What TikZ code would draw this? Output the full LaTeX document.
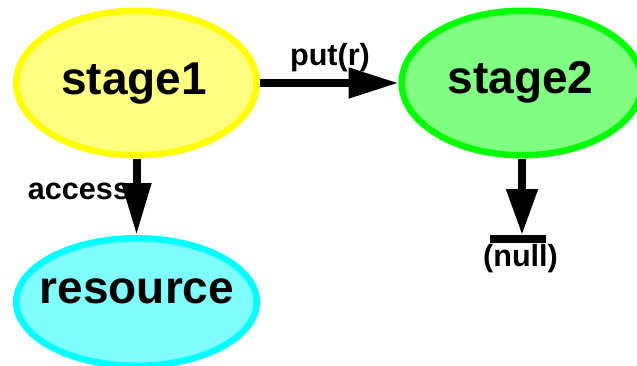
\documentclass[tikz,border=0pt]{standalone}
\usepackage{fontspec}
\setmainfont{Liberation Sans}
\usetikzlibrary{arrows.meta,shapes.geometric}
\definecolor{yfill}{HTML}{FFFF80}
\definecolor{yline}{HTML}{FFFF00}
\definecolor{gfill}{HTML}{80FF80}
\definecolor{gline}{HTML}{00FF00}
\definecolor{cfill}{HTML}{80FFFF}
\definecolor{cline}{HTML}{00FFFF}
\begin{document}
\begin{tikzpicture}[x=1pt,y=-1pt,
  blob/.style={ellipse,line width=6.5pt,inner sep=0pt,minimum width=240.5pt},
  bigtxt/.style={anchor=base,inner sep=0pt,font=\fontsize{46}{50}\selectfont\bfseries},
  smalltxt/.style={anchor=base,inner sep=0pt,font=\fontsize{30.6}{34}\selectfont\bfseries},
  arr/.style={line width=8pt,-{Triangle[length=50pt,width=29pt]}}]
\useasboundingbox (0,0) rectangle (637,365);
\begin{scope}
\clip (0,0) rectangle (637,365);
\node[blob,draw=yline,fill=yfill,minimum height=144.5pt] (s1) at (136.5,83) {};
\node[blob,draw=gline,fill=gfill,minimum height=144.5pt] (s2) at (522,83) {};
\node[blob,draw=cline,fill=cfill,minimum height=127.5pt] (res) at (136.5,302) {};
\end{scope}
\node[bigtxt] (t1) at (134,94) {stage1};
\node[bigtxt] (t2) at (520.5,93.5) {stage2};
\node[bigtxt] (t3) at (137,303) {resource};
\coordinate (nl) at (522,235);
\draw[arr] (s1.east) -- (s2.west);
\draw[line width=8pt,-{Triangle[length=52pt,width=28pt]}] (s1.south) -- (res.north);
\draw[line width=8pt,-{Triangle[length=46pt,width=30pt]}] (s2.south) -- (nl);
\draw[line width=7.5pt] (490,239) -- (546,239);
\node[smalltxt] (lput) at (330,65) {put(r)};
\node[smalltxt] (lacc) at (79,199) {access};
\node[smalltxt] (lnull) at (520.5,266) {(null)};
\end{tikzpicture}
\end{document}
